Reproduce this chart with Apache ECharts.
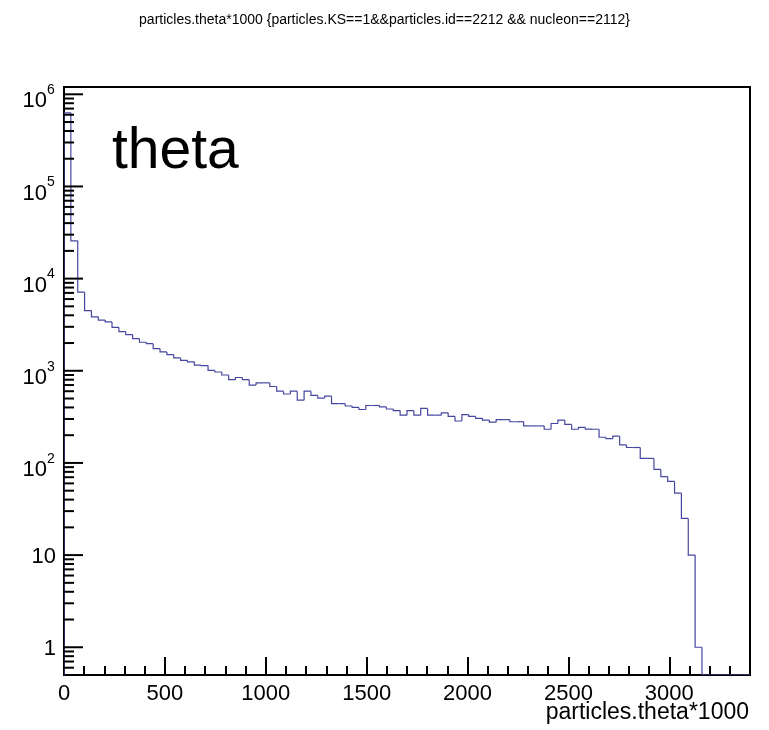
<!DOCTYPE html>
<html>
<head>
<meta charset="utf-8">
<script src="https://cdn.jsdelivr.net/npm/echarts@6/dist/echarts.min.js"></script>
<style>
  html, body { margin: 0; padding: 0; background: #fff; }
  #chart { width: 769px; height: 730px; }
</style>
</head>
<body>
<div id="chart"></div>
<script>
// ---- data ----
const titleText = 'particles.theta*1000 {particles.KS==1&&particles.id==2212 && nucleon==2112}';
const xTitle = 'particles.theta*1000';
const histLabel = 'theta';
const binWidth = 34;          // 100 bins over 0..3400
const xMin = 0;
const xMax = 3400;
const yMin = 0.5;
const yMax = 1.2e6;
const binContents = [
  630000, 25700, 7130, 4500, 3850, 3550, 3390, 2960, 2660, 2470,
  2230, 2040, 1970, 1740, 1600, 1500, 1380, 1300, 1250, 1150,
  1140, 1010, 970, 900, 800, 845, 800, 700, 740, 740,
  675, 600, 560, 600, 480, 600, 540, 505, 530, 440,
  440, 415, 400, 380, 420, 420, 405, 385, 370, 330,
  370, 330, 390, 330, 330, 350, 320, 285, 335, 320,
  305, 292, 277, 295, 295, 280, 280, 252, 252, 252,
  232, 268, 292, 262, 232, 243, 233, 232, 190, 184,
  195, 157, 147, 147, 112, 112, 85, 71, 63, 47,
  25, 10, 1, 0, 0, 0, 0, 0, 0, 0
];
const xMajorStep = 500;
const xMinorStep = 100;
const yMajorTicks = [1, 10, 100, 1000, 10000, 100000, 1000000];
const yMajorLabels = ['1', '10', '10^2', '10^3', '10^4', '10^5', '10^6'];
const yMinorMantissas = [2, 3, 4, 5, 6, 7, 8, 9];

// ---- build series ----
// each bin: [left edge, right edge, content, previous content]; empty bins sit on the axis floor
const histData = binContents.map(function (v, i) {
  const prev = i === 0 ? 0 : binContents[i - 1];
  return [xMin + i * binWidth, xMin + (i + 1) * binWidth, v > 0 ? v : yMin, prev > 0 ? prev : yMin];
});

const yTickData = [];
yMajorTicks.forEach(function (t, i) {
  yTickData.push([xMin, t, 1, i]);
});
[0.1].concat(yMajorTicks).forEach(function (t) {
  yMinorMantissas.forEach(function (m) {
    const v = t * m;
    if (v > yMin && v < yMax) yTickData.push([xMin, v, 0, -1]);
  });
});

const FONT = '"Liberation Sans", Arial, Helvetica, sans-serif';
const LINE_COLOR = '#4646a0';

const chart = echarts.init(document.getElementById('chart'), null, { renderer: 'canvas' });
chart.setOption({
  animation: false,
  backgroundColor: '#fff',
  title: {
    text: titleText,
    left: 'center',
    top: 8,
    textStyle: { fontSize: 14, fontWeight: 'normal', color: '#000', fontFamily: FONT }
  },
  graphic: [{
    type: 'text',
    left: 112,
    top: 124,
    style: { text: histLabel, font: '57px ' + FONT, fill: '#000' }
  }, {
    type: 'text',
    right: 20,
    top: 701,
    style: { text: xTitle, font: '23px ' + FONT, fill: '#000' }
  }],
  grid: {
    left: 64, right: 19, top: 87, bottom: 55,
    containLabel: false, outerBoundsMode: 'none',
    show: true, borderColor: '#000', borderWidth: 2, backgroundColor: 'transparent'
  },
  xAxis: [{
    type: 'value', min: xMin, max: xMax, interval: xMinorStep, position: 'bottom',
    axisLine: { show: true, lineStyle: { color: '#000', width: 2 } },
    axisTick: { show: true, inside: true, length: 9, lineStyle: { color: '#000', width: 2 } },
    axisLabel: { show: false },
    splitLine: { show: false }
  }, {
    type: 'value', min: xMin, max: xMax, interval: xMajorStep, position: 'bottom',
    axisLine: { show: true, lineStyle: { color: '#000', width: 2 } },
    axisTick: { show: true, inside: true, length: 18, lineStyle: { color: '#000', width: 2 } },
    axisLabel: {
      show: true, fontSize: 22, color: '#000', fontFamily: FONT, margin: 8, showMaxLabel: false,
      formatter: function (v) { return String(v); }
    },
    splitLine: { show: false }
  }],
  yAxis: {
    type: 'log', logBase: 10, min: yMin, max: yMax,
    axisLine: { show: true, lineStyle: { color: '#000', width: 2 } },
    axisTick: { show: false },
    axisLabel: { show: false },
    splitLine: { show: false }
  },
  series: [{
    type: 'custom',
    xAxisIndex: 0,
    data: histData,
    encode: { x: [0, 1], y: [2, 3] },
    clip: true,
    z: 3,
    renderItem: function (params, api) {
      const l = api.value(0), r = api.value(1), v = api.value(2), pv = api.value(3);
      const a = api.coord([l, pv]);
      const b = api.coord([l, v]);
      const c = api.coord([r, v]);
      return {
        type: 'polyline',
        shape: { points: [a, b, c] },
        style: { stroke: LINE_COLOR, lineWidth: 1.2, fill: null }
      };
    }
  }, {
    type: 'custom',
    xAxisIndex: 0,
    data: yTickData,
    encode: { x: 0, y: 1 },
    clip: false,
    z: 4,
    renderItem: function (params, api) {
      const v = api.value(1);
      const major = api.value(2) === 1;
      const p = api.coord([api.value(0), v]);
      const children = [{
        type: 'line',
        shape: { x1: p[0], y1: p[1], x2: p[0] + (major ? 19 : 10), y2: p[1] },
        style: { stroke: '#000', lineWidth: 2 }
      }];
      if (major) {
        const lab = yMajorLabels[api.value(3)];
        const parts = lab.split('^');
        if (parts.length === 1) {
          children.push({
            type: 'text',
            style: { text: lab, x: p[0] - 8, y: p[1] + 2, align: 'right', verticalAlign: 'middle', font: '22px ' + FONT, fill: '#000' }
          });
        } else {
          children.push({
            type: 'text',
            style: { text: parts[0], x: p[0] - 17, y: p[1] + 7, align: 'right', verticalAlign: 'middle', font: '22px ' + FONT, fill: '#000' }
          });
          children.push({
            type: 'text',
            style: { text: parts[1], x: p[0] - 17, y: p[1] - 4, align: 'left', verticalAlign: 'middle', font: '14px ' + FONT, fill: '#000' }
          });
        }
      }
      return { type: 'group', children: children };
    }
  }]
});
</script>
</body>
</html>
